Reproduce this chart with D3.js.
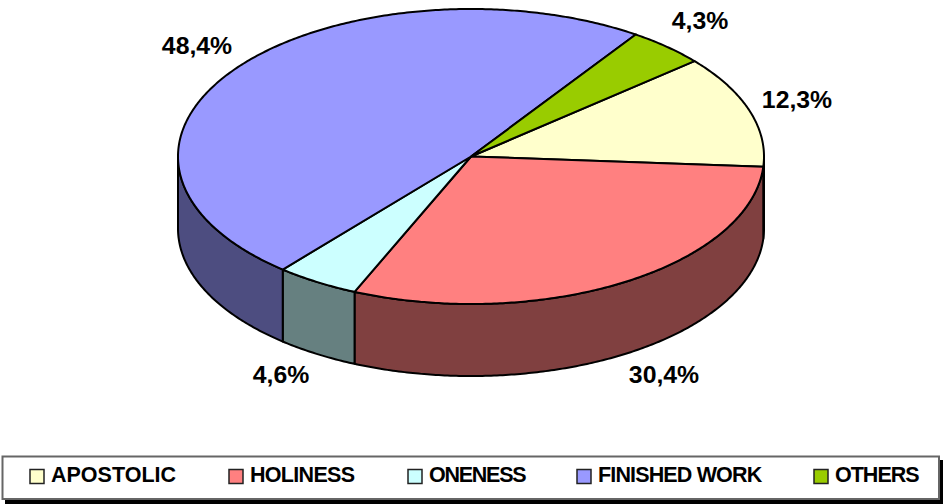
<!DOCTYPE html>
<html><head><meta charset="utf-8">
<script src="https://cdn.jsdelivr.net/npm/d3@7"></script>
<style>html,body{margin:0;padding:0;background:#fff}svg{display:block}text{font-family:"Liberation Sans",Arial,sans-serif;font-weight:bold;fill:#000}</style>
</head><body><svg id="c" width="943" height="504"></svg>
<script>
const categories=["APOSTOLIC","HOLINESS","ONENESS","FINISHED WORK","OTHERS"];
const shares=[12.3,30.4,4.6,48.4,4.3];
const shareLabels=["12,3%","30,4%","4,6%","48,4%","4,3%"];
const topColors=["#FFFFCC","#FF8080","#CCFFFF","#9999FF","#99CC00"];
const sideColors=["#808066","#804040","#668080","#4D4D80","#4D6600"];
const labelPos=[[797,99],[664,374],[281,374],[197,45],[700,20]];
const legendX=[51,250,429,598,835];
const legendSpacing=[0,-0.7,-1.25,-0.85,-1];

const svg=d3.select("#c");
const x=d3.scaleLinear().domain([-1,1]).range([178,764]);
const y=d3.scaleLinear().domain([-1,1]).range([9,304]);
const depth=72;
const start=49.7*Math.PI/180;
const arcs=d3.pie().sort(null).startAngle(start).endAngle(start+2*Math.PI)(shares);
const px=a=>x(Math.sin(a)), py=a=>y(-Math.cos(a));
const line=d3.line();
const samples=(a0,a1)=>{const n=Math.max(2,Math.ceil((a1-a0)/0.01));return d3.range(n+1).map(i=>a0+(a1-a0)*i/n);};

// side wall, only the part of each slice that faces the viewer
arcs.forEach((d,i)=>{
  const a0=Math.max(d.startAngle,Math.PI/2),a1=Math.min(d.endAngle,3*Math.PI/2);
  if(a1<=a0)return;
  const s=samples(a0,a1);
  const pts=s.map(a=>[px(a),py(a)]).concat(s.slice().reverse().map(a=>[px(a),py(a)+depth]));
  svg.append("path").attr("d",line(pts)+"Z").attr("fill",sideColors[i]).attr("stroke","#000").attr("stroke-width",2).attr("stroke-linejoin","round");
});
// top faces
arcs.forEach((d,i)=>{
  const pts=[[x(0),y(0)]].concat(samples(d.startAngle,d.endAngle).map(a=>[px(a),py(a)]));
  svg.append("path").attr("d",line(pts)+"Z").attr("fill",topColors[i]).attr("stroke","#000").attr("stroke-width",2).attr("stroke-linejoin","round");
});
// value labels
shareLabels.forEach((t,i)=>{
  svg.append("text").attr("x",labelPos[i][0]).attr("y",labelPos[i][1]).attr("dy","0.36em").attr("text-anchor","middle").attr("font-size",24.8).text(t);
});
// legend
const lg=svg.append("g");
lg.append("rect").attr("x",5).attr("y",460).attr("width",938).attr("height",44).attr("fill","#000");
lg.append("rect").attr("x",2.5).attr("y",456.5).attr("width",936.5).attr("height",42.5).attr("fill","#fff").attr("stroke","#666").attr("stroke-width",2);
categories.forEach((c,i)=>{
  lg.append("rect").attr("x",legendX[i]-21).attr("y",469.5).attr("width",14).attr("height",14).attr("fill",topColors[i]).attr("stroke","#222").attr("stroke-width",1.5);
  lg.append("text").attr("x",legendX[i]).attr("y",482).attr("font-size",21.5).attr("letter-spacing",legendSpacing[i]).text(c);
});
</script></body></html>
